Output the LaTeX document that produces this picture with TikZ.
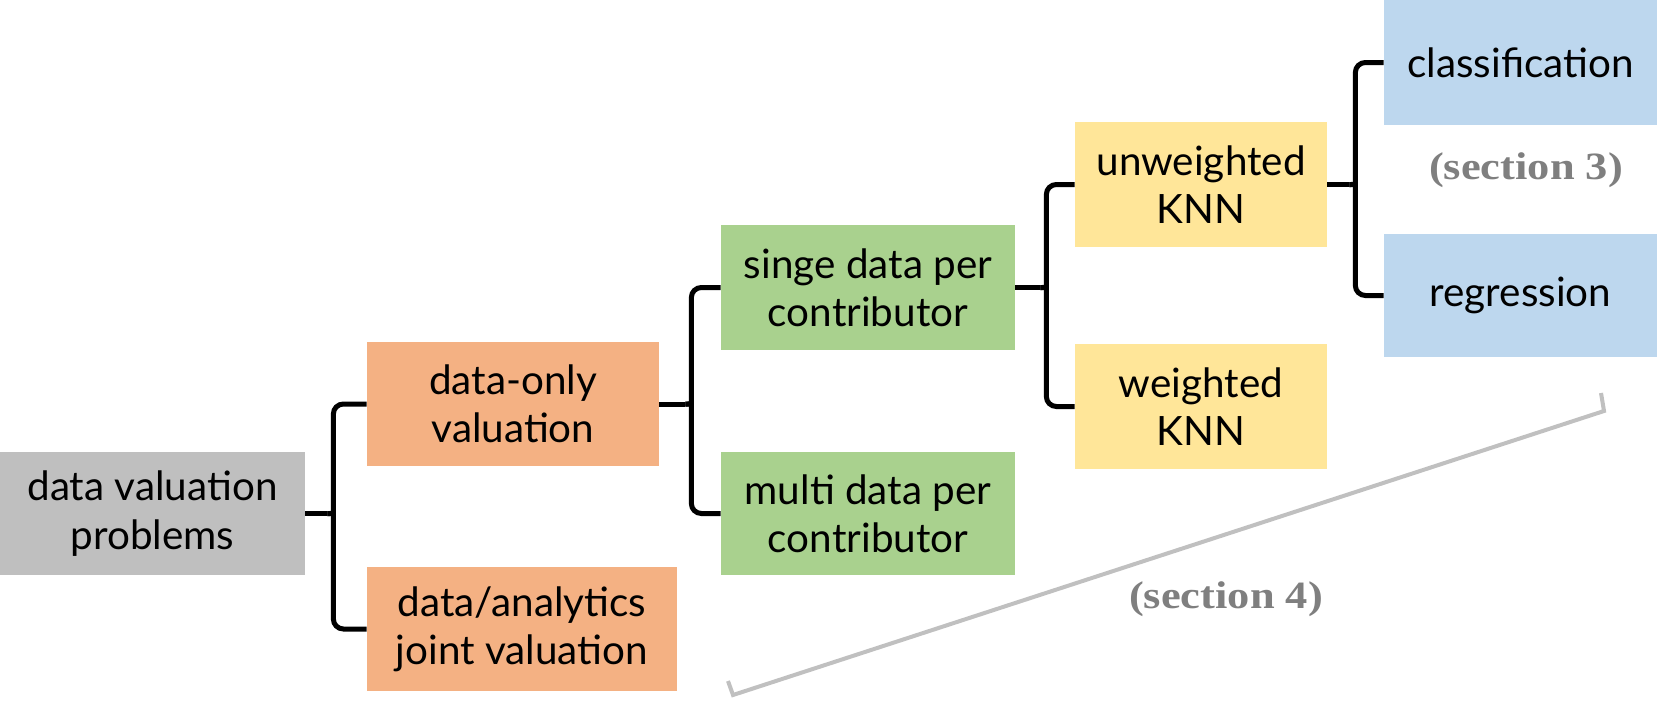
\documentclass[tikz,border=0pt]{standalone}
\usepackage{fontspec}
\newfontfamily\boxfont{Lato}
\newfontfamily\secfont[FakeStretch=1.15]{Liberation Serif}
\usetikzlibrary{calc}
\definecolor{cgrey}{HTML}{BFBFBF}
\definecolor{corange}{HTML}{F4B183}
\definecolor{cgreen}{HTML}{A9D18E}
\definecolor{cyellow}{HTML}{FFE699}
\definecolor{cblue}{HTML}{BDD7EE}
\definecolor{csec}{HTML}{7F7F7F}
\definecolor{cbracket}{HTML}{C0C0C0}
\newcommand\pxu{0.02cm}
\tikzset{
  box/.style={rectangle, inner sep=0pt, align=center, font=\boxfont\fontsize{23}{27.5}\selectfont, text=black},
  brline/.style={line width=5*\pxu, black, rounded corners=10*\pxu},
  sec/.style={font=\secfont\bfseries\fontsize{22}{26}\selectfont, text=csec, inner sep=0pt},
  secline/.style={line width=4*\pxu, cbracket, line join=miter}
}
\newcommand\mybrace[4]{%
  \coordinate (#1-t) at ($(#1.east)+(#4,0)$);
  \draw[brline] (#1.east) -- ($(#1-t)+(-6,0)$);
  \draw[brline] (#2.west) -| ($(#1-t)+(0,-9)$) .. controls (#1-t) .. ($(#1-t)+(-6,0)$);
  \draw[brline] (#3.west) -| ($(#1-t)+(0,9)$) .. controls (#1-t) .. ($(#1-t)+(-6,0)$);
}
\begin{document}
\begin{tikzpicture}[x=0.02cm, y=-0.02cm]
\useasboundingbox (0,0) rectangle (1660,704);
% boxes
\node[box, fill=cgrey, minimum width=305*\pxu, minimum height=123*\pxu] (root) at (152.5,513.5) {data valuation\\problems};
\node[box, fill=corange, minimum width=292*\pxu, minimum height=124*\pxu] (o1) at (513,404) {data-only\\valuation};
\node[box, fill=corange, minimum width=310*\pxu, minimum height=124*\pxu] (o2) at (522,629) {data/analytics\\joint valuation};
\node[box, fill=cgreen, minimum width=294*\pxu, minimum height=125*\pxu] (g1) at (868,287.5) {singe data per\\contributor};
\node[box, fill=cgreen, minimum width=294*\pxu, minimum height=123*\pxu] (g2) at (868,513.5) {multi data per\\contributor};
\node[box, fill=cyellow, minimum width=252*\pxu, minimum height=125*\pxu] (y1) at (1201,184.5) {unweighted\\KNN};
\node[box, fill=cyellow, minimum width=252*\pxu, minimum height=125*\pxu] (y2) at (1201,406.5) {weighted\\KNN};
\node[box, fill=cblue, minimum width=273*\pxu, minimum height=125*\pxu] (b1) at (1520.5,62.5) {classification};
\node[box, fill=cblue, minimum width=273*\pxu, minimum height=123*\pxu] (b2) at (1520.5,295.5) {regression};
% braces
\mybrace{root}{o1}{o2}{28}
\mybrace{o1}{g1}{g2}{32}
\mybrace{g1}{y1}{y2}{31}
\mybrace{y1}{b1}{b2}{28}
% section labels
\node[sec] (s3) at (1526,170) {(section 3)};
\node[sec] (s4) at (1226,599) {(section 4)};
% grey bracket
\coordinate (k1) at (728,681);
\coordinate (k2) at (733,695);
\coordinate (k3) at (1604,411);
\coordinate (k4) at (1601,393);
\draw[secline] (k1) -- (k2) -- (k3) -- (k4);
\end{tikzpicture}
\end{document}
